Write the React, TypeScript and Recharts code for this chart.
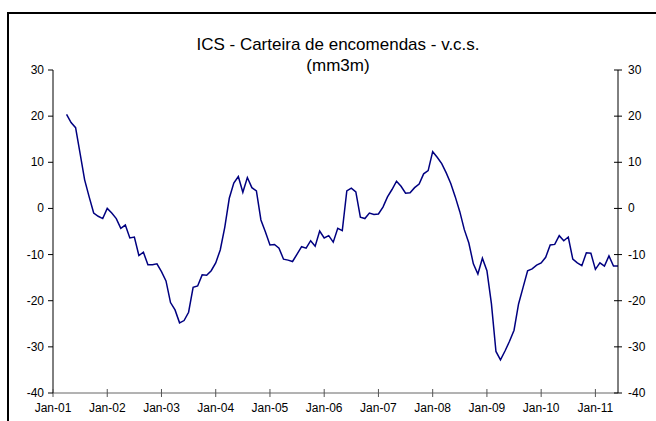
import { LineChart, Line, XAxis, YAxis } from "recharts";

// month index counted from Jan-01; first value is Apr-01
const START_MONTH = 3;

const v2001 = [20.4, 18.6, 17.5, 11.9, 6.2, 2.5, -1.0, -1.7, -2.2];
const v2002 = [0.0, -1.0, -2.2, -4.3, -3.6, -6.4, -6.2, -10.2, -9.5, -12.2, -12.2, -12.0];
const v2003 = [-13.7, -15.7, -20.4, -22.0, -24.8, -24.3, -22.5, -17.1, -16.8, -14.4, -14.5, -13.5];
const v2004 = [-11.8, -9.0, -4.1, 2.2, 5.5, 6.9, 3.5, 6.7, 4.5, 3.8, -2.5, -5.1];
const v2005 = [-7.9, -7.8, -8.6, -11.0, -11.2, -11.5, -9.9, -8.3, -8.6, -7.0, -8.2, -4.9];
const v2006 = [-6.4, -5.9, -7.3, -4.3, -4.8, 3.8, 4.4, 3.6, -1.9, -2.2, -1.0, -1.3];
const v2007 = [-1.2, 0.3, 2.5, 4.1, 5.9, 4.8, 3.3, 3.4, 4.5, 5.3, 7.5, 8.2];
const v2008 = [12.3, 11.1, 9.7, 7.7, 5.4, 2.5, -0.7, -4.6, -7.5, -12.0, -14.2, -10.8];
const v2009 = [-13.5, -20.7, -31.0, -32.8, -30.9, -28.8, -26.4, -20.7, -17.1, -13.5, -13.1, -12.3];
const v2010 = [-11.8, -10.6, -7.9, -7.8, -5.9, -7.0, -6.2, -11.0, -11.8, -12.4, -9.6, -9.7];
const v2011 = [-13.2, -11.8, -12.5, -10.3, -12.5, -12.5];

const xTicks = [0, 12, 24, 36, 48, 60, 72, 84, 96, 108, 120];
const xLabels = ["Jan-01", "Jan-02", "Jan-03", "Jan-04", "Jan-05", "Jan-06", "Jan-07", "Jan-08", "Jan-09", "Jan-10", "Jan-11"];
const yTicks = [-40, -30, -20, -10, 0, 10, 20, 30];

const values = [...v2001, ...v2002, ...v2003, ...v2004, ...v2005, ...v2006, ...v2007, ...v2008, ...v2009, ...v2010, ...v2011];
const data = values.map((v, i) => ({ m: START_MONTH + i, v }));

const FONT = "'Liberation Sans', Arial, sans-serif";

const LeftTick = (props: any) => {
  const { x, y, payload } = props;
  return (
    <g>
      <line x1={x - 5} x2={x} y1={y} y2={y} stroke="#000" />
      <text x={x - 9} y={y} dy={4} textAnchor="end" fontSize={12} fill="#000" fontFamily={FONT}>
        {payload.value}
      </text>
    </g>
  );
};

const RightTick = (props: any) => {
  const { x, y, payload } = props;
  return (
    <g>
      <line x1={x - 4} x2={x + 4} y1={y} y2={y} stroke="#000" />
      <text x={x + 10} y={y} dy={4} textAnchor="start" fontSize={12} fill="#000" fontFamily={FONT}>
        {payload.value}
      </text>
    </g>
  );
};

const BottomTick = (props: any) => {
  const { x, y, payload } = props;
  const idx = xTicks.indexOf(payload.value);
  return (
    <g>
      <line x1={x} x2={x} y1={y - 4} y2={y + 4} stroke="#555" />
      <text x={x} y={y + 19} textAnchor="middle" fontSize={12} fill="#000" fontFamily={FONT}>
        {xLabels[idx]}
      </text>
    </g>
  );
};

export default function App() {
  return (
    <div
      style={{
        position: "absolute",
        left: 0,
        top: 0,
        width: 656,
        height: 421,
        overflow: "hidden",
        background: "#fff",
        fontFamily: FONT,
      }}
    >
      <div
        style={{
          position: "absolute",
          left: 7,
          top: 12,
          width: 700,
          height: 500,
          border: "2px solid #000",
        }}
      />
      <div
        style={{
          position: "absolute",
          left: 0,
          width: 676,
          top: 34,
          textAlign: "center",
          fontSize: 17,
          lineHeight: "21px",
          color: "#000",
        }}
      >
        ICS - Carteira de encomendas - v.c.s.
        <br />
        (mm3m)
      </div>
      <div style={{ position: "absolute", left: 0, top: 0 }}>
        <LineChart width={656} height={421} data={data} margin={{ top: 70, right: 0, bottom: 0, left: 0 }}>
          <XAxis
            dataKey="m"
            type="number"
            domain={[0, 125]}
            ticks={xTicks}
            allowDecimals={false}
            height={28}
            tickSize={0}
            tickMargin={0}
            tickLine={false}
            stroke="#666"
            tick={<BottomTick />}
            interval={0}
          />
          <YAxis
            yAxisId="left"
            orientation="left"
            domain={[-40, 30]}
            ticks={yTicks}
            width={53}
            tickSize={0}
            tickMargin={0}
            tickLine={false}
            stroke="#000"
            tick={<LeftTick />}
            interval={0}
          />
          <YAxis
            yAxisId="right"
            orientation="right"
            domain={[-40, 30]}
            ticks={yTicks}
            width={38}
            tickSize={0}
            tickMargin={0}
            tickLine={false}
            stroke="#000"
            tick={<RightTick />}
            interval={0}
          />
          <Line
            yAxisId="right"
            type="linear"
            dataKey="v"
            stroke="none"
            dot={false}
            activeDot={false}
            isAnimationActive={false}
          />
          <Line
            yAxisId="left"
            type="linear"
            dataKey="v"
            stroke="#000080"
            strokeWidth={1.5}
            dot={false}
            isAnimationActive={false}
          />
        </LineChart>
      </div>
    </div>
  );
}
